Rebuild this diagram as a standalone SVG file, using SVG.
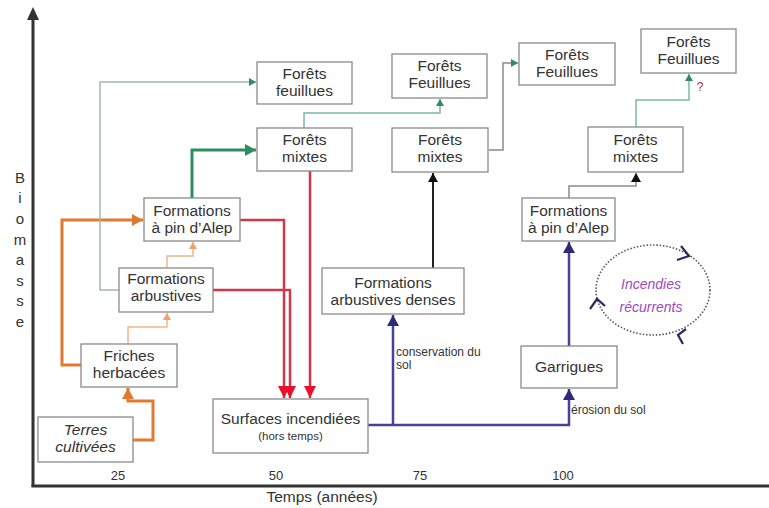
<svg xmlns="http://www.w3.org/2000/svg" width="769" height="508" viewBox="0 0 769 508">
<style>
  .box{fill:#fff;stroke:#8a8a8a;stroke-width:1.3}
  .t{font-family:"Liberation Sans",Arial,sans-serif;font-size:15.5px;fill:#333;text-anchor:middle}
  .it{font-style:italic}
  .small{font-family:"Liberation Sans",Arial,sans-serif;font-size:12px;fill:#333}
  .ax{font-family:"Liberation Sans",Arial,sans-serif;font-size:13px;fill:#333;text-anchor:middle}
  .yl{font-family:"Liberation Sans",Arial,sans-serif;font-size:15px;fill:#333;text-anchor:middle}
  .c{fill:none;stroke-linejoin:miter}
  .orange{stroke:#e07a30;stroke-width:3}
  .lorange{stroke:#f2b48a;stroke-width:1.5}
  .ggreen{stroke:#a3b8b0;stroke-width:1.5}
  .green{stroke:#2e8b63;stroke-width:3}
  .teal{stroke:#7cb8a8;stroke-width:1.5}
  .grey{stroke:#8a8a8a;stroke-width:1.5}
  .black{stroke:#222;stroke-width:2}
  .red{stroke:#d0384a;stroke-width:2.5}
  .navy{stroke:#4b3f9c;stroke-width:2.5}
</style>
<defs>
  <marker id="aOrange" markerUnits="userSpaceOnUse" markerWidth="12" markerHeight="12" refX="11" refY="6" orient="auto"><path d="M0,0 L11,6 L0,12 z" fill="#e07a30"/></marker>
  <marker id="aLOrange" markerUnits="userSpaceOnUse" markerWidth="8" markerHeight="8" refX="7" refY="4" orient="auto"><path d="M0,0 L7,4 L0,8 z" fill="#f0a070"/></marker>
  <marker id="aGreen" markerUnits="userSpaceOnUse" markerWidth="12" markerHeight="12" refX="11" refY="6" orient="auto"><path d="M0,0 L11,6 L0,12 z" fill="#2e8b63"/></marker>
  <marker id="aTeal" markerUnits="userSpaceOnUse" markerWidth="8" markerHeight="8" refX="7" refY="4" orient="auto"><path d="M0,0 L7,4 L0,8 z" fill="#2e8b63"/></marker>
  <marker id="aBlack" markerUnits="userSpaceOnUse" markerWidth="10" markerHeight="10" refX="9" refY="5" orient="auto"><path d="M0,0 L9,5 L0,10 z" fill="#111"/></marker>
  <marker id="aRed" markerUnits="userSpaceOnUse" markerWidth="13" markerHeight="12" refX="12" refY="6" orient="auto"><path d="M0,0 L12,6 L0,12 z" fill="#e8102a"/></marker>
  <marker id="aNavy" markerUnits="userSpaceOnUse" markerWidth="12" markerHeight="12" refX="11" refY="6" orient="auto"><path d="M0,0 L11,6 L0,12 z" fill="#2e2a78"/></marker>
</defs>
<rect width="769" height="508" fill="#fff"/>

<g id="axes">
  <line x1="33" y1="18" x2="33" y2="487" stroke="#333" stroke-width="3"/>
  <path d="M33,7 L39,20 L27,20 z" fill="#333"/>
  <line x1="31.5" y1="486" x2="769" y2="486" stroke="#333" stroke-width="3"/>
  <text class="yl" x="20" y="183">B</text>
  <text class="yl" x="20" y="203">i</text>
  <text class="yl" x="20" y="224">o</text>
  <text class="yl" x="20" y="245">m</text>
  <text class="yl" x="20" y="265">a</text>
  <text class="yl" x="20" y="286">s</text>
  <text class="yl" x="20" y="306">s</text>
  <text class="yl" x="20" y="327">e</text>
  <text class="ax" x="118" y="480">25</text>
  <text class="ax" x="276" y="480">50</text>
  <text class="ax" x="420" y="480">75</text>
  <text class="ax" x="563" y="480">100</text>
  <text class="t" x="322" y="502">Temps (années)</text>
</g>

<g id="connectors">
  <path class="c orange" d="M133,440 H153 V401 H128 V388" marker-end="url(#aOrange)"/>
  <path class="c orange" d="M81,365 H62 V220 H143" marker-end="url(#aOrange)"/>
  <path class="c lorange" d="M128,344 V327 H167 V313" marker-end="url(#aLOrange)"/>
  <path class="c lorange" d="M167,268 V256 H193 V242" marker-end="url(#aLOrange)"/>
  <path class="c ggreen" d="M119,290 H100 V82 H256" marker-end="url(#aTeal)"/>
  <path class="c green" d="M192,198 V150 H256" marker-end="url(#aGreen)"/>
  <path class="c teal" d="M304,128 V113 H440 V99" marker-end="url(#aTeal)"/>
  <path class="c grey" d="M489,150 H503 V63 H518" marker-end="url(#aTeal)"/>
  <path class="c teal" d="M636,127 V100 H689 V74" marker-end="url(#aTeal)"/>
  <path class="c grey" d="M569,198 V186 H636 V173" marker-end="url(#aBlack)"/>
  <path class="c black" d="M433,268 V173" marker-end="url(#aBlack)"/>
  <path class="c red" d="M240,220 H284 V398" marker-end="url(#aRed)"/>
  <path class="c red" d="M213,290 H290 V398" marker-end="url(#aRed)"/>
  <path class="c red" d="M310,171 V398" marker-end="url(#aRed)"/>
  <path class="c navy" d="M368,425 H569 V389" marker-end="url(#aNavy)"/>
  <path class="c navy" d="M393,425 V315" marker-end="url(#aNavy)"/>
  <path class="c navy" d="M569,346 V242" marker-end="url(#aNavy)"/>
  <text class="small" x="396" y="356">conservation du</text>
  <text class="small" x="396" y="369">sol</text>
  <text class="small" x="571" y="414">érosion du sol</text>
  <text x="700" y="91" font-family="Liberation Sans, Arial, sans-serif" font-size="12px" fill="#a03040" text-anchor="middle">?</text>
</g>

<g id="terres">
  <rect class="box" x="38" y="417" width="95" height="45"/>
  <text class="t it" x="85.5" y="435">Terres</text>
  <text class="t it" x="85.5" y="452">cultivées</text>
</g>
<g id="friches">
  <rect class="box" x="81" y="344" width="96" height="43"/>
  <text class="t" x="129" y="361">Friches</text>
  <text class="t" x="129" y="378">herbacées</text>
</g>
<g id="arbustives">
  <rect class="box" x="119" y="268" width="94" height="44"/>
  <text class="t" x="166" y="284">Formations</text>
  <text class="t" x="166" y="301">arbustives</text>
</g>
<g id="pin1">
  <rect class="box" x="144" y="198" width="96" height="43"/>
  <text class="t" x="192" y="216">Formations</text>
  <text class="t" x="192" y="233">à pin d’Alep</text>
</g>
<g id="feuillues1">
  <rect class="box" x="257" y="62" width="95" height="42"/>
  <text class="t" x="304.5" y="79">Forêts</text>
  <text class="t" x="304.5" y="96">feuillues</text>
</g>
<g id="mixtes1">
  <rect class="box" x="257" y="128" width="95" height="43"/>
  <text class="t" x="304.5" y="145">Forêts</text>
  <text class="t" x="304.5" y="162">mixtes</text>
</g>
<g id="surfaces">
  <rect class="box" x="213" y="399" width="155" height="54"/>
  <text class="t" x="290.5" y="424">Surfaces incendiées</text>
  <text class="t" x="290.5" y="440" style="font-size:11.5px">(hors temps)</text>
</g>
<g id="denses">
  <rect class="box" x="322" y="268" width="142" height="46"/>
  <text class="t" x="393" y="288">Formations</text>
  <text class="t" x="393" y="305">arbustives denses</text>
</g>
<g id="feuillues2">
  <rect class="box" x="392" y="54" width="95" height="44"/>
  <text class="t" x="439.5" y="71">Forêts</text>
  <text class="t" x="439.5" y="88">Feuillues</text>
</g>
<g id="mixtes2">
  <rect class="box" x="392" y="128" width="96" height="44"/>
  <text class="t" x="440" y="145">Forêts</text>
  <text class="t" x="440" y="162">mixtes</text>
</g>
<g id="feuillues3">
  <rect class="box" x="519" y="43" width="96" height="42"/>
  <text class="t" x="567" y="60">Forêts</text>
  <text class="t" x="567" y="77">Feuillues</text>
</g>
<g id="feuillues4">
  <rect class="box" x="641" y="29" width="95" height="44"/>
  <text class="t" x="688.5" y="47">Forêts</text>
  <text class="t" x="688.5" y="64">Feuillues</text>
</g>
<g id="mixtes3">
  <rect class="box" x="588" y="127" width="95" height="45"/>
  <text class="t" x="635.5" y="145">Forêts</text>
  <text class="t" x="635.5" y="162">mixtes</text>
</g>
<g id="pin2">
  <rect class="box" x="522" y="198" width="93" height="43"/>
  <text class="t" x="568.5" y="216">Formations</text>
  <text class="t" x="568.5" y="233">à pin d’Alep</text>
</g>
<g id="garrigues">
  <rect class="box" x="521" y="346" width="96" height="42"/>
  <text class="t" x="569" y="372">Garrigues</text>
</g>
<g id="incendies">
  <ellipse cx="653" cy="290" rx="57" ry="45" fill="none" stroke="#555" stroke-width="1.6" stroke-dasharray="1.5,1.8"/>
  <path d="M681,246 L689,256 L677,260" fill="none" stroke="#2a2a60" stroke-width="2.2"/>
  <path d="M590,309 L597,299 L605,306" fill="none" stroke="#2a2a60" stroke-width="2.2"/>
  <path d="M686,329 L678,335 L683,344" fill="none" stroke="#2a2a60" stroke-width="2.2"/>
  <text x="651" y="289" font-family="Liberation Sans, Arial, sans-serif" font-size="14px" font-style="italic" fill="#a048c0" text-anchor="middle">Incendies</text>
  <text x="651" y="312" font-family="Liberation Sans, Arial, sans-serif" font-size="14px" font-style="italic" fill="#a048c0" text-anchor="middle">récurrents</text>
</g>
</svg>
